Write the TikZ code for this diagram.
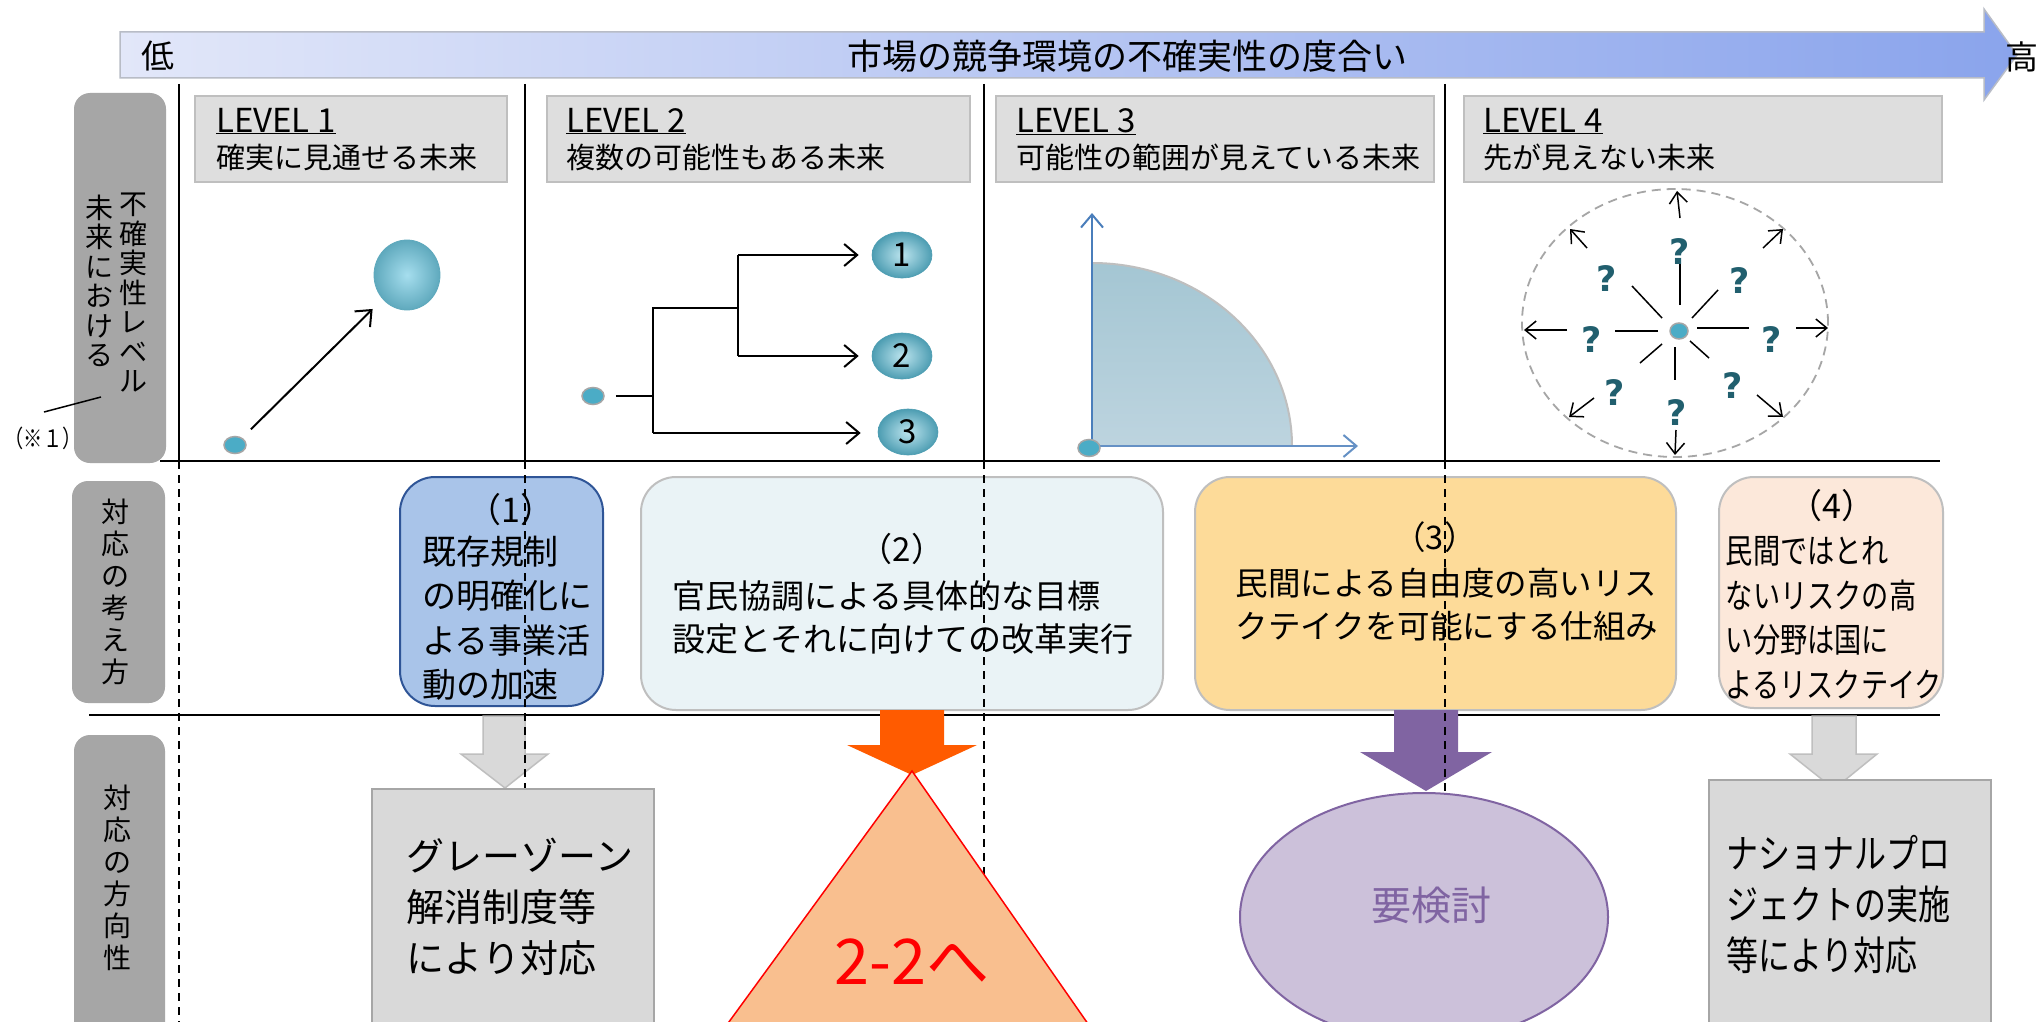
\documentclass[tikz,border=0pt]{standalone}
\usepackage{fontspec}
\setmainfont{Noto Sans CJK JP}
\newfontfamily\condf{Noto Sans CJK JP}[FakeStretch=0.8]
\newfontfamily\qfont{DejaVu Sans}
\usetikzlibrary{arrows.meta,shapes.geometric}
\definecolor{bandL}{HTML}{E2E7F9}
\definecolor{bandR}{HTML}{8AA4EC}
\definecolor{bandB}{HTML}{B8BCC6}
\definecolor{sideC}{HTML}{A6A6A6}
\definecolor{lvlF}{HTML}{DEDEDE}
\definecolor{lvlB}{HTML}{BFBFBF}
\definecolor{dotC}{HTML}{4BACC6}
\definecolor{ballIn}{HTML}{A6DEEE}
\definecolor{ballOut}{HTML}{5FA9BD}
\definecolor{nbIn}{HTML}{BCE4EE}
\definecolor{nbOut}{HTML}{4D9DB2}
\definecolor{axisC}{HTML}{4A7EBB}
\definecolor{qTop}{HTML}{A4C6D3}
\definecolor{qBot}{HTML}{BDD4DF}
\definecolor{qC}{HTML}{215F6E}
\definecolor{b1F}{HTML}{A9C4E9}
\definecolor{b1B}{HTML}{2F5597}
\definecolor{b2F}{HTML}{EAF3F6}
\definecolor{b3F}{HTML}{FDDB99}
\definecolor{b4F}{HTML}{FCE8DA}
\definecolor{greyF}{HTML}{D9D9D9}
\definecolor{orC}{HTML}{FF5B00}
\definecolor{triF}{HTML}{F9BF8F}
\definecolor{purC}{HTML}{8064A2}
\definecolor{ellF}{HTML}{CCC1DA}
\newcommand{\fsz}[2]{\fontsize{#1}{#2}\selectfont}
\begin{document}
\begin{tikzpicture}[x=1pt,y=-1pt,
  rulel/.style={line width=2.2pt, black},
  dline/.style={line width=1.5pt, dash pattern=on 8pt off 6pt},
  sidebox/.style={fill=sideC, rounded corners=16pt, inner sep=0},
  vtext/.style={align=center, inner sep=0, font=\fsz{28}{32}},
  lvlbox/.style={fill=lvlF, draw=lvlB, line width=2pt, inner sep=0},
  lvltxt/.style={inner sep=0, font=\fsz{29}{34}},
  dotn/.style={ellipse, fill=dotC, draw=sideC, line width=1.5pt, minimum width=22pt, minimum height=17pt, inner sep=0},
  nball/.style={ellipse, inner color=nbIn, outer color=nbOut, draw=nbOut, line width=0.6pt, minimum width=60pt, minimum height=46pt, inner sep=0, font=\fsz{33}{33}},
  barb/.style={-{Straight Barb[length=13pt,width=22pt]}, line width=2pt},
  sbarb/.style={-{Straight Barb[length=11pt,width=18pt]}, line width=1.5pt},
  qm/.style={font=\qfont\bfseries\fsz{35}{35}, text=qC, inner sep=0},
  rbox/.style={rounded corners=35pt, line width=2pt, inner sep=0},
  btxt/.style={inner sep=0, font=\fsz{34}{44.5}},
  blockarrow/.style={line width=1.5pt}
]
\clip (0,0) rectangle (2042,1022);
\fill[white] (0,0) rectangle (2042,1022);

% top band
\shadedraw[left color=bandL, right color=bandR, draw=bandB, line width=1.5pt]
  (120,32) -- (1984,32) -- (1984,9) -- (2017,55) -- (1984,100) -- (1984,78) -- (120,78) -- cycle;
\node[font=\fsz{33}{33}, inner sep=0] (low) at (158,56) {低};
\node[font=\fsz{35}{35}, inner sep=0] (ttl) at (1127,56) {市場の競争環境の不確実性の度合い};
\node[font=\fsz{33}{33}, inner sep=0] (high) at (2022,57) {高};

% side labels
\node[sidebox, minimum width=92pt, minimum height=370pt] (S1) at (120,278) {};
\node[vtext, font=\fsz{28}{29.5}] (S1a) at (133,293) {不\\確\\実\\性\\レ\\ベ\\ル};
\node[vtext, font=\fsz{28}{29.5}] (S1b) at (99,281) {未\\来\\に\\お\\け\\る};
\node[sidebox, minimum width=93pt, minimum height=222pt] (S2) at (118.5,592) {};
\node[vtext] (S2a) at (115,592) {対\\応\\の\\考\\え\\方};
\node[sidebox, minimum width=91pt, minimum height=320pt] (S3) at (119.5,895) {};
\node[vtext] (S3a) at (117,878) {対\\応\\の\\方\\向\\性};
\node[font=\condf\fsz{24}{24}, inner sep=0] (note) at (43,438) {（※１）};
\coordinate (c1) at (44,412);
\coordinate (c2) at (101,397);
\draw[line width=1.5pt] (c1) -- (c2);

% grid lines
\draw[rulel] (160,461) -- (1940,461);
\draw[rulel] (89,715) -- (1940,715);
\foreach \xx in {179,525,984,1445} \draw[line width=1.8pt] (\xx,84) -- (\xx,461);

% level headers
\node[lvlbox, minimum width=312pt, minimum height=86pt] (L1) at (351,139) {};
\node[lvlbox, minimum width=423pt, minimum height=86pt] (L2) at (758.5,139) {};
\node[lvlbox, minimum width=438pt, minimum height=86pt] (L3) at (1215,139) {};
\node[lvlbox, minimum width=478pt, minimum height=86pt] (L4) at (1703,139) {};
\node[lvltxt, font=\fsz{33}{34}, anchor=base west] (L1a) at (216,132) {\underline{LEVEL 1}};
\node[lvltxt, anchor=base west] (L1b) at (216,168) {確実に見通せる未来};
\node[lvltxt, font=\fsz{33}{34}, anchor=base west] (L2a) at (566,132) {\underline{LEVEL 2}};
\node[lvltxt, anchor=base west] (L2b) at (566,168) {複数の可能性もある未来};
\node[lvltxt, font=\fsz{33}{34}, anchor=base west] (L3a) at (1016,132) {\underline{LEVEL 3}};
\node[lvltxt, anchor=base west] (L3b) at (1016,168) {可能性の範囲が見えている未来};
\node[lvltxt, font=\fsz{33}{34}, anchor=base west] (L4a) at (1483,132) {\underline{LEVEL 4}};
\node[lvltxt, anchor=base west] (L4b) at (1483,168) {先が見えない未来};

% LEVEL 1
\node[dotn] (d1) at (235,445) {};
\node[ellipse, minimum width=66pt, minimum height=70pt, inner color=ballIn, outer color=ballOut, draw=ballOut, line width=0.8pt, inner sep=0] (B0) at (407,275) {};
\draw[barb, shorten <=12pt, shorten >=14pt] (d1) -- (B0);

% LEVEL 2
\node[dotn] (d2) at (593,396) {};
\node[nball] (n1) at (902,255) {1};
\node[nball] (n2) at (902,356) {2};
\node[nball] (n3) at (908,432) {3};
\coordinate (ja) at (653,396);
\coordinate (jb) at (653,308);
\coordinate (jf) at (653,433);
\coordinate (jc) at (738,308);
\coordinate (jd) at (738,255);
\coordinate (je) at (738,356);
\draw[line width=2pt, shorten <=11pt] (d2) -- (ja);
\draw[line width=2pt] (jc) -- (jb) -- (jf);
\draw[line width=2pt] (jd) -- (je);
\draw[barb, shorten >=13pt] (jd) -- (n1.west);
\draw[barb, shorten >=13pt] (je) -- (n2.west);
\draw[barb, shorten >=17pt] (jf) -- (jf -| n3.west);

% LEVEL 3
\shade[top color=qTop, bottom color=qBot] (1092,446) -- (1092,263) .. controls (1202.5,263) and (1292,344.9) .. (1292,446) -- cycle;
\draw[line width=2pt, lvlB] (1092,263) .. controls (1202.5,263) and (1292,344.9) .. (1292,446);
\coordinate (o3) at (1092,446);
\coordinate (ya) at (1092,213);
\coordinate (xa) at (1358,446);
\draw[barb, axisC] (o3) -- (ya);
\draw[barb, axisC!85!white] (o3) -- (xa);
\node[dotn] (d3) at (1089,448) {};

% LEVEL 4
\node[ellipse, draw=sideC, line width=1.8pt, dash pattern=on 9pt off 6pt, minimum width=306pt, minimum height=268pt, inner sep=0] (E4) at (1675,323) {};
\foreach \a/\b/\c/\d in {1680/218/1677/191, 1587/248/1570/229, 1763/248/1783/229, 1567/330/1524/330, 1796/328/1828/328, 1594/398/1569/417, 1676/430/1675/455, 1757/395/1783/417}
  \draw[sbarb] (\a,\b) -- (\c,\d);
\foreach \a/\b/\c/\d in {1680/305/1680/263, 1662/318/1632/286, 1692/318/1718/290, 1658/331/1615/331, 1697/328/1749/328, 1662/344/1640/363, 1675/347/1675/380, 1690/341/1709/358}
  \draw[line width=1.5pt] (\a,\b) -- (\c,\d);
\node[dotn, minimum width=18pt, minimum height=16pt] (d4) at (1679,331) {};
\node[qm] (q1) at (1680,252) {?};
\node[qm] (q2) at (1607,279) {?};
\node[qm] (q3) at (1740,281) {?};
\node[qm] (q4) at (1592,340) {?};
\node[qm] (q5) at (1772,340) {?};
\node[qm] (q6) at (1615,393) {?};
\node[qm] (q7) at (1733,386) {?};
\node[qm] (q8) at (1677,413) {?};

% middle boxes
\node[rbox, fill=b1F, draw=b1B, minimum width=203pt, minimum height=229pt] (M1) at (501.5,591.5) {};
\node[rbox, fill=b2F, draw=lvlB, minimum width=522pt, minimum height=233pt] (M2) at (902,593.5) {};
\node[rbox, fill=b3F, draw=lvlB, minimum width=481pt, minimum height=233pt] (M3) at (1435.5,593.5) {};
\node[rbox, fill=b4F, draw=lvlB, minimum width=224pt, minimum height=231pt] (M4) at (1831,592.5) {};

% block arrows
\filldraw[blockarrow, fill=greyF, draw=lvlB] (483,716) -- (525,716) -- (525,754) -- (548,754) -- (505,788) -- (461,754) -- (483,754) -- cycle;
\fill[orC] (880,710) -- (944,710) -- (944,745) -- (977,745) -- (912,775) -- (847,745) -- (880,745) -- cycle;
\fill[purC] (1394,710) -- (1458,710) -- (1458,752) -- (1492,752) -- (1426,791) -- (1360,752) -- (1394,752) -- cycle;
\filldraw[blockarrow, fill=greyF, draw=lvlB] (1812,716) -- (1856,716) -- (1856,754) -- (1877,754) -- (1834,789) -- (1790,754) -- (1812,754) -- cycle;

% dashed guide lines
\draw[dline] (179,461) -- (179,1022);
\draw[dline] (525,461) -- (525,789);
\draw[dline] (984,461) -- (984,1022);
\draw[dline] (1445,461) -- (1445,800);

% bottom shapes
\node[fill=greyF, draw=sideC, line width=2pt, minimum width=282pt, minimum height=261pt, inner sep=0] (R1) at (513,919.5) {};
\node[fill=greyF, draw=sideC, line width=2pt, minimum width=282pt, minimum height=270pt, inner sep=0] (R4) at (1850,915) {};
\filldraw[fill=triF, draw=red, line width=1.5pt] (912,771) -- (1141,1100) -- (672,1100) -- cycle;
\node[ellipse, fill=ellF, draw=purC, line width=2pt, minimum width=368pt, minimum height=248pt, inner sep=0] (E5) at (1424,917) {};

% texts
\node[btxt] (M1n) at (511,510) {（1）};
\node[btxt, align=left] (M1t) at (507,618) {既存規制\\の明確化に\\よる事業活\\動の加速};
\node[btxt, font=\fsz{33}{43}] (M2n) at (902,549) {（2）};
\node[btxt, font=\fsz{33}{43}, align=left] (M2t) at (903,617.5) {官民協調による具体的な目標\\設定とそれに向けての改革実行};
\node[btxt, font=\fsz{32.5}{43}] (M3n) at (1435,537) {（3）};
\node[btxt, font=\fsz{32.5}{43}, align=left] (M3t) at (1447,604.5) {民間による自由度の高いリス\\クテイクを可能にする仕組み};
\node[btxt] (M4n) at (1832,506) {（4）};
\node[btxt, font=\condf\fsz{34}{44.5}, align=left] (M4t) at (1834,618) {民間ではとれ\\ないリスクの高\\い分野は国に\\よるリスクテイク};
\node[inner sep=0, font=\fsz{38}{51}, align=left] (R1t) at (520,907) {グレーゾーン\\解消制度等\\により対応};
\node[inner sep=0, font=\condf\fsz{40}{51}, align=left] (R4t) at (1838,904) {ナショナルプロ\\ジェクトの実施\\等により対応};
\node[inner sep=0, font=\fsz{63}{63}, text=red] (T2) at (912,962) {2-2へ};
\node[inner sep=0, font=\fsz{40}{40}, text=purC] (E5t) at (1431,905) {要検討};
\end{tikzpicture}
\end{document}
